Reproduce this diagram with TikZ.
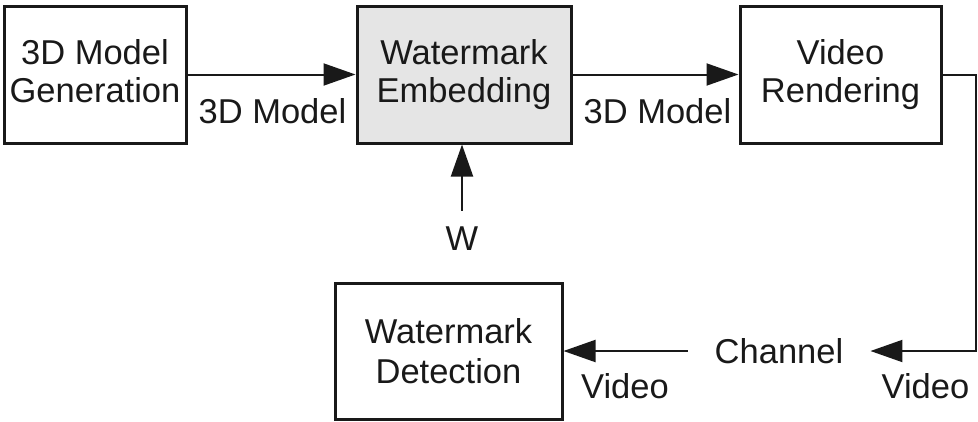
\documentclass[tikz,border=0pt]{standalone}
\usepackage{fontspec}
\setmainfont{Liberation Sans}
\usetikzlibrary{arrows.meta}
\begin{document}
\begin{tikzpicture}[x=1pt,y=-1pt,
  every node/.style={font=\fontsize{34.5}{38}\selectfont, text=black!90},
  block/.style={draw=black!90, line width=3pt, align=center, minimum height=137pt, inner sep=0pt},
  conn/.style={draw=black!90, line width=2pt},
  flow/.style={conn, -{Triangle[length=32pt,width=22pt]}},
  lbl/.style={anchor=base, inner sep=0pt}]
  \useasboundingbox (0,0) rectangle (978,421);

  % processing blocks
  \node[block, minimum width=182pt] (gen) at (95,74.5) {3D Model\\Generation\vphantom{g}};
  \node[block, minimum width=214pt, fill=gray!20] (emb) at (464,74.5) {Watermark\\Embedding};
  \node[block, minimum width=201pt] (ren) at (840.5,74.5) {Video\\Rendering};
  \node[block, minimum width=227pt, minimum height=136pt,
        font=\fontsize{34.5}{39.5}\selectfont] (det) at (448.5,351) {Watermark\\Detection};

  % channel and watermark input
  \node[inner xsep=27pt, inner ysep=0pt] (chan) at (779,351) {Channel};
  \node[inner xsep=0pt, inner ysep=16pt] (w) at (462,239) {W};

  % corner points of the return path
  \coordinate (c1) at (976,74.5);
  \coordinate (c2) at (976,351);

  % connectors
  \draw[flow] (gen.east) -- (emb.west);
  \draw[flow] (emb.east) -- (ren.west);
  \draw[flow] (w.north) -- (w.north |- emb.south);
  \draw[flow] (ren.east) -- (c1) -- (c2) -- (chan.east);
  \draw[flow] (chan.west) -- (det.east);

  % connector labels
  \node[lbl] (l1) at (272.5,123) {3D Model};
  \node[lbl] (l2) at (657.5,123) {3D Model};
  \node[lbl] (l3) at (625,398) {Video};
  \node[lbl] (l4) at (925.5,398) {Video};
\end{tikzpicture}
\end{document}
